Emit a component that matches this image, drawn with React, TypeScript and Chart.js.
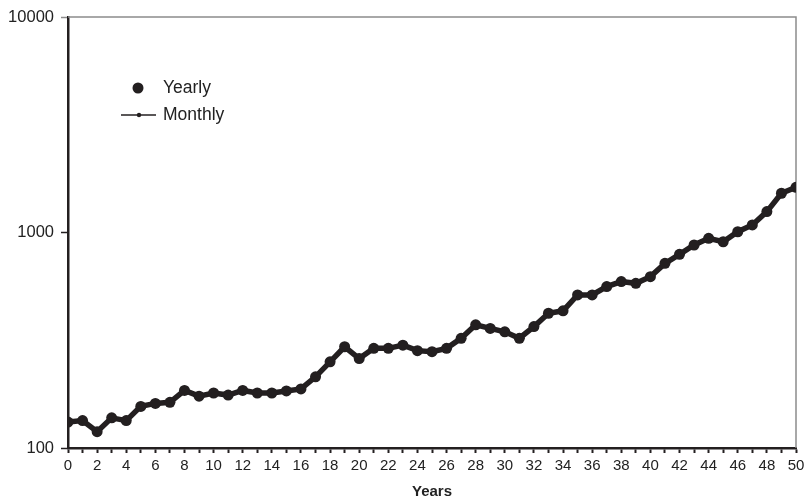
import React, { useEffect, useRef } from "react";
import { Chart, registerables } from "chart.js";

Chart.register(...registerables);

// Years 0..50
const years: number[] = Array.from({ length: 51 }, (_, i) => i);

// Index level at each year end
const yearlyValues: number[] = [
  132, 134, 119, 138, 134, 156, 161, 163, 185, 174,
  180, 176, 185, 180, 180, 184, 188, 214, 251, 295,
  260, 290, 290, 300, 283, 280, 290, 323, 373, 359,
  346, 323, 366, 422, 433, 513, 513, 561, 592, 581,
  624, 719, 792, 875, 940, 906, 1008, 1084, 1250, 1521,
  1621,
];

// Monthly series plotted through the same year-end levels
const monthlyValues: number[] = yearlyValues.slice();

const yTicks: number[] = [100, 1000, 10000];

const INK = "#231f20";
const FONT = "'Liberation Sans', Arial, sans-serif";

const frameAndLegend = {
  id: "frameAndLegend",
  beforeDatasetsDraw(chart: any) {
    const { ctx, chartArea } = chart;
    ctx.save();
    ctx.strokeStyle = "#8c8c8c";
    ctx.lineWidth = 1.5;
    ctx.beginPath();
    ctx.moveTo(chartArea.left, chartArea.top);
    ctx.lineTo(chartArea.right, chartArea.top);
    ctx.lineTo(chartArea.right, chartArea.bottom);
    ctx.stroke();
    ctx.restore();
  },
  afterDraw(chart: any) {
    const { ctx } = chart;
    ctx.save();
    ctx.fillStyle = INK;
    ctx.strokeStyle = INK;
    // Yearly marker
    ctx.beginPath();
    ctx.arc(138, 88, 5.5, 0, Math.PI * 2);
    ctx.fill();
    // Monthly line with small marker
    ctx.lineWidth = 1.5;
    ctx.beginPath();
    ctx.moveTo(121, 115);
    ctx.lineTo(156, 115);
    ctx.stroke();
    ctx.beginPath();
    ctx.arc(139, 115, 2.2, 0, Math.PI * 2);
    ctx.fill();
    ctx.font = `17.5px ${FONT}`;
    ctx.fillStyle = "#222";
    ctx.textBaseline = "middle";
    ctx.textAlign = "left";
    ctx.fillText("Yearly", 163, 88);
    ctx.fillText("Monthly", 163, 115);
    ctx.restore();
  },
};

export default function App() {
  const canvasRef = useRef<HTMLCanvasElement | null>(null);

  useEffect(() => {
    if (!canvasRef.current) return;
    const chart = new Chart(canvasRef.current, {
      type: "line",
      data: {
        labels: years,
        datasets: [
          {
            label: "Monthly",
            data: years.map((x, i) => ({ x, y: monthlyValues[i] })),
            borderColor: INK,
            backgroundColor: INK,
            borderWidth: 5.5,
            pointRadius: 2,
            tension: 0,
            order: 2,
          },
          {
            label: "Yearly",
            data: years.map((x, i) => ({ x, y: yearlyValues[i] })),
            showLine: false,
            borderColor: INK,
            backgroundColor: INK,
            pointRadius: 5.5,
            pointBorderWidth: 0,
            order: 1,
          },
        ],
      },
      options: {
        animation: false,
        responsive: false,
        maintainAspectRatio: false,
        layout: { padding: { top: 17, right: 10, left: 0, bottom: 0 } },
        plugins: {
          legend: { display: false },
          tooltip: { enabled: false },
        },
        scales: {
          x: {
            type: "linear",
            min: 0,
            max: 50,
            afterFit: (s: any) => {
              s.height = 56;
              s.paddingLeft = 0;
              s.paddingRight = 0;
            },
            ticks: {
              stepSize: 1,
              autoSkip: false,
              maxRotation: 0,
              padding: 4,
              color: "#222",
              font: { family: FONT, size: 15 },
              callback: (v: any) => (Number(v) % 2 === 0 ? String(v) : ""),
            },
            grid: {
              drawOnChartArea: false,
              drawTicks: true,
              tickLength: 5,
              tickWidth: 2,
              tickColor: INK,
            },
            border: { display: true, color: INK, width: 2.5 },
            title: {
              display: true,
              text: "Years",
              color: "#222",
              font: { family: FONT, size: 15, weight: "bold" },
              padding: { top: 0, bottom: 3 },
            },
          },
          y: {
            type: "logarithmic",
            min: 100,
            max: 10000,
            afterFit: (s: any) => {
              s.width = 68;
              s.paddingTop = 0;
              s.paddingBottom = 0;
            },
            afterBuildTicks: (s: any) => {
              s.ticks = yTicks.map((value) => ({ value }));
            },
            ticks: {
              padding: 7,
              color: "#222",
              font: { family: FONT, size: 16.5 },
              callback: (v: any) => String(v),
            },
            grid: {
              drawOnChartArea: false,
              drawTicks: true,
              tickLength: 7,
              tickWidth: 1.5,
              tickColor: (c: any) => (c.tick && c.tick.value === 10000 ? "#8c8c8c" : INK),
            },
            border: { display: true, color: INK, width: 2.5 },
          },
        },
      },
      plugins: [frameAndLegend],
    });
    return () => chart.destroy();
  }, []);

  return (
    <div style={{ position: "fixed", left: 0, top: 0, width: 806, height: 504, background: "#fff" }}>
      <canvas ref={canvasRef} width={806} height={504} style={{ display: "block" }} />
    </div>
  );
}
